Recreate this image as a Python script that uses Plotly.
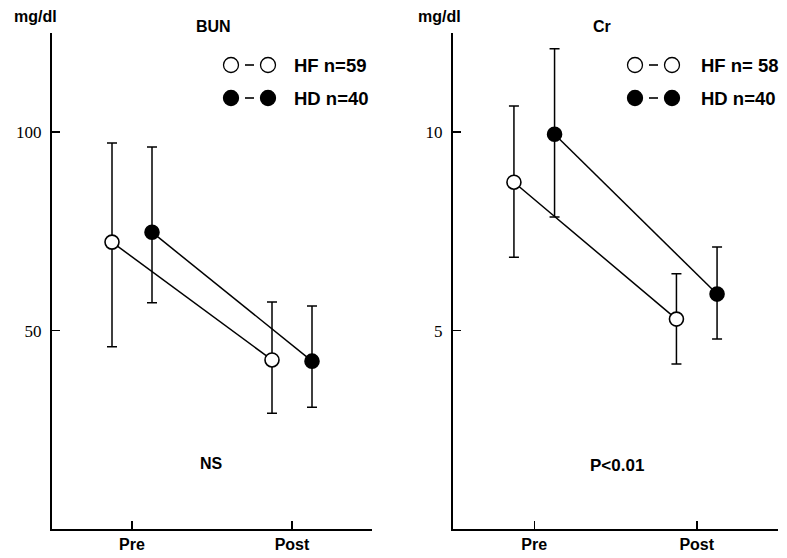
import plotly.graph_objects as go

W, H = 787, 558

# ---- data ----
times = ["Pre", "Post"]

bun_hf_mean = [72.3, 42.6]
bun_hf_upper = [97.3, 57.2]
bun_hf_lower = [45.9, 29.2]
bun_hd_mean = [74.8, 42.3]
bun_hd_upper = [96.3, 56.2]
bun_hd_lower = [57.0, 30.7]

cr_hf_mean = [8.74, 5.29]
cr_hf_upper = [10.66, 6.43]
cr_hf_lower = [6.85, 4.16]
cr_hd_mean = [9.95, 5.92]
cr_hd_upper = [12.1, 7.11]
cr_hd_lower = [7.86, 4.79]

bun_ticks = [50, 100]
cr_ticks = [5, 10]

legend_bun = ["HF n=59", "HD n=40"]
legend_cr = ["HF n= 58", "HD n=40"]

# ---- helpers ----
def X(px):
    return px / W

def Y(py):
    return 1 - py / H

OFF = 0.125
base = list(range(len(times)))

fig = go.Figure()

def add_series(mean, upper, lower, xaxis, yaxis, shift, filled):
    xs = [b + shift for b in base]
    fig.add_trace(go.Scatter(
        x=xs, y=mean, xaxis=xaxis, yaxis=yaxis,
        mode="lines+markers",
        line=dict(color="black", width=1.5),
        marker=dict(size=14, symbol="circle",
                    color="black" if filled else "white",
                    line=dict(color="black", width=1.6)),
        error_y=dict(type="data", symmetric=False,
                     array=[u - m for u, m in zip(upper, mean)],
                     arrayminus=[m - l for m, l in zip(mean, lower)],
                     color="black", thickness=1.5, width=5),
        showlegend=False, hoverinfo="skip",
    ))

add_series(bun_hf_mean, bun_hf_upper, bun_hf_lower, "x", "y", -OFF, False)
add_series(bun_hd_mean, bun_hd_upper, bun_hd_lower, "x", "y", OFF, True)
add_series(cr_hf_mean, cr_hf_upper, cr_hf_lower, "x2", "y2", -OFF, False)
add_series(cr_hd_mean, cr_hd_upper, cr_hd_lower, "x2", "y2", OFF, True)

xcommon = dict(range=[-0.5, 1.5], showgrid=False, zeroline=False,
               showline=True, linecolor="black", linewidth=2,
               ticks="inside", ticklen=8, tickwidth=1.5, tickcolor="black",
               tickvals=base, ticktext=["<b>%s</b>" % t for t in times],
               tickfont=dict(family="Liberation Sans", size=16, color="black"),
               fixedrange=True)
ycommon = dict(showgrid=False, zeroline=False,
               showline=True, linecolor="black", linewidth=2,
               ticks="inside", ticklen=8, tickwidth=1.5, tickcolor="black",
               tickfont=dict(family="Liberation Serif", size=17, color="black"),
               ticklabelstandoff=5, fixedrange=True)

ydom = [Y(529), Y(33)]
fig.update_layout(
    width=W, height=H,
    margin=dict(l=0, r=0, t=0, b=0),
    paper_bgcolor="white", plot_bgcolor="white",
    hovermode=False,
    xaxis=dict(domain=[X(52), X(372)], anchor="y", **xcommon),
    yaxis=dict(domain=ydom, anchor="x", range=[0, 125],
               tickvals=bun_ticks, **ycommon),
    xaxis2=dict(domain=[X(453), X(778)], anchor="y2", **xcommon),
    yaxis2=dict(domain=ydom, anchor="x2", range=[0, 12.5],
                tickvals=cr_ticks, **ycommon),
)

ann = []
def txt(s, px, py, size=15, xanchor="center"):
    ann.append(dict(text="<b>%s</b>" % s, x=X(px), y=Y(py), xref="paper", yref="paper",
                    showarrow=False, xanchor=xanchor, yanchor="middle",
                    font=dict(family="Liberation Sans", size=size, color="black")))

txt("mg/dl", 35, 16, 16)
txt("mg/dl", 439, 16, 16)
txt("BUN", 213, 27, 16)
txt("Cr", 602, 27, 16)
txt("NS", 212, 463, 16)
txt("P&lt;0.01", 617, 465, 17)

shapes = []
def circ(cx, cy, filled, r=7.5):
    shapes.append(dict(type="circle", xref="paper", yref="paper",
                       x0=X(cx - r), x1=X(cx + r), y0=Y(cy + r), y1=Y(cy - r),
                       line=dict(color="black", width=1.3),
                       fillcolor="black" if filled else "white"))

def dash(x0, x1, y):
    shapes.append(dict(type="line", xref="paper", yref="paper",
                       x0=X(x0), x1=X(x1), y0=Y(y), y1=Y(y),
                       line=dict(color="black", width=1.6)))

def legend(x_left, texts, text_x):
    for i, (t, filled) in enumerate(zip(texts, [False, True])):
        yy = 65 + 33 * i
        circ(x_left, yy, filled)
        dash(x_left + 14, x_left + 23, yy)
        circ(x_left + 37, yy, filled)
        txt(t, text_x, yy, 18.5, xanchor="left")

legend(231, legend_bun, 292)
legend(635, legend_cr, 699)

fig.update_layout(annotations=ann, shapes=shapes)

fig.write_html("out.html",
               config={"displayModeBar": False, "staticPlot": True},
               post_script="document.body.style.margin='0';document.body.style.overflow='hidden';")
